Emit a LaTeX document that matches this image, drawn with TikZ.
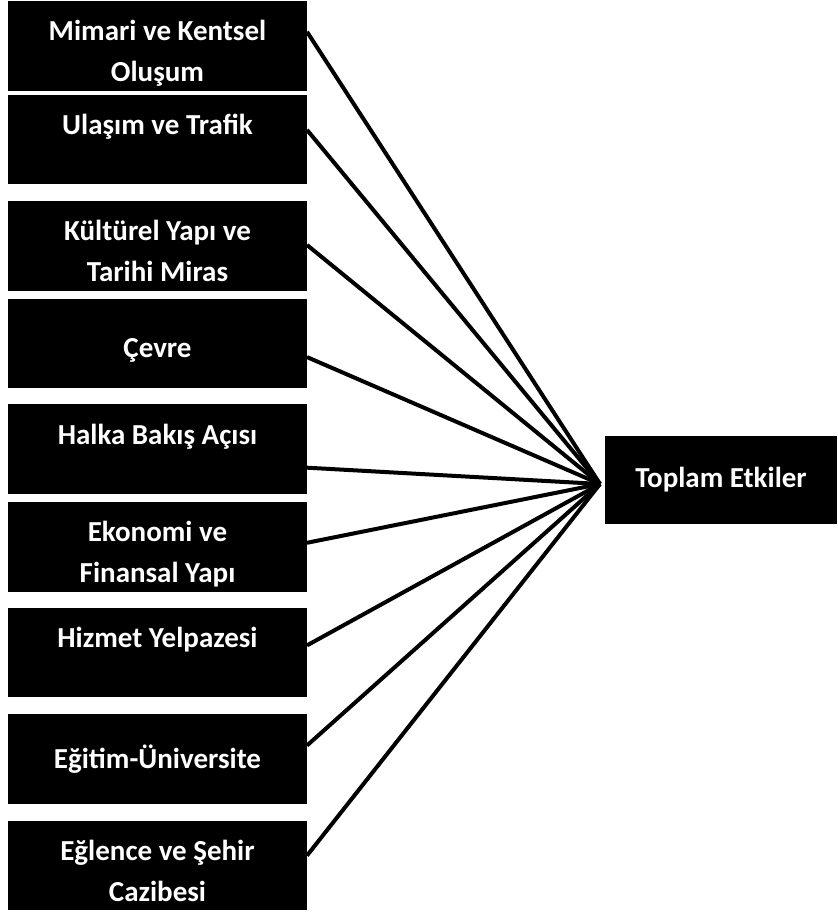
\documentclass[tikz,border=0pt]{standalone}
\usepackage{fontspec}
\setmainfont{Carlito}
\usepackage{tikz}
\usetikzlibrary{positioning}

\begin{document}
\begin{tikzpicture}[
    box/.style={rectangle, fill=black, text=white, minimum width=149.5pt, minimum height=44.8pt, align=center, inner sep=0pt, outer sep=0pt, font=\fontsize{14.5}{20.5}\selectfont\bfseries},
    twobox/.style={box, text height=36pt, text depth=0pt},
    link/.style={line width=2pt},
]
\useasboundingbox (0,0) rectangle (418.5pt,456.5pt);

\node[twobox] (mimari) at (78.75pt,433.6pt) {Mimari ve Kentsel\\Oluşum};
\node[twobox, below=2pt of mimari] (ulasim) {Ulaşım ve Trafik\\\mbox{}};
\node[twobox, below=8.5pt of ulasim] (kultur) {Kültürel Yapı ve\\Tarihi Miras};
\node[box, text height=14pt, text depth=0pt, below=4pt of kultur] (cevre) {Çevre};
\node[twobox, below=8pt of cevre] (halka) {Halka Bakış Açısı\\\mbox{}};
\node[twobox, below=4pt of halka] (ekonomi) {Ekonomi ve\\Finansal Yapı};
\node[twobox, below=8pt of ekonomi] (hizmet) {Hizmet Yelpazesi\\\mbox{}};
\node[box, below=8.5pt of hizmet] (egitim) {Eğitim-Üniversite};
\node[twobox, below=8.5pt of egitim] (eglence) {Eğlence ve Şehir\\Cazibesi};

\node[box, minimum width=116pt, minimum height=44pt] (toplam) at (360.5pt,216.5pt) {Toplam Etkiler};
\coordinate (hub) at ([xshift=-2.5pt,yshift=-2pt]toplam.west);

% her etkiden toplam etkilere
\foreach \n/\dy in {mimari/7pt, ulasim/4.75pt, kultur/0.5pt, cevre/-6.75pt, halka/-9.25pt, ekonomi/2pt, hizmet/3.5pt, egitim/6.75pt, eglence/5pt}
    \draw[link] ([yshift=\dy]\n.east) -- (hub);

\end{tikzpicture}
\end{document}
